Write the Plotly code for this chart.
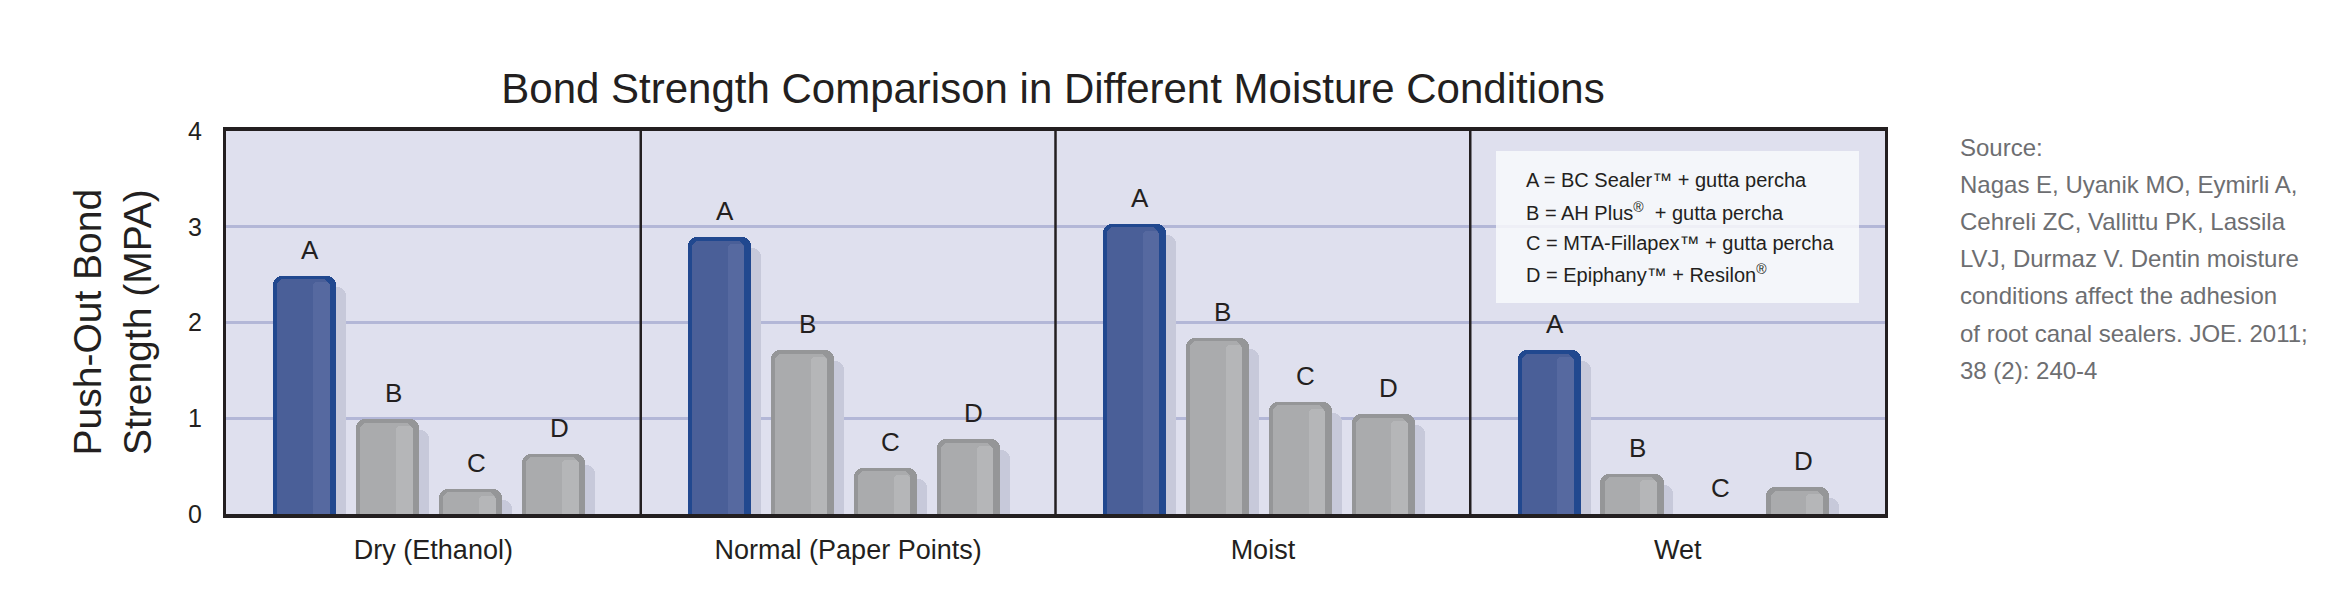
import plotly.graph_objects as go

# ---------------- data ----------------
CONDITIONS = ["Dry (Ethanol)", "Normal (Paper Points)", "Moist", "Wet"]
SEALERS = ["A", "B", "C", "D"]
A_VALUES = [2.49, 2.89, 3.03, 1.71]
B_VALUES = [0.99, 1.71, 1.84, 0.42]
C_VALUES = [0.26, 0.48, 1.17, 0.00]
D_VALUES = [0.63, 0.78, 1.04, 0.28]
Y_TICKS = [0, 1, 2, 3, 4]
LEGEND_LINES = [
    "A = BC Sealer™ + gutta percha",
    "B = AH Plus<sup>®</sup>  + gutta percha",
    "C = MTA-Fillapex™ + gutta percha",
    "D = Epiphany™ + Resilon<sup>®</sup>",
]
SOURCE_LINES = [
    "Source:",
    "Nagas E, Uyanik MO, Eymirli A,",
    "Cehreli ZC, Vallittu PK, Lassila",
    "LVJ, Durmaz V. Dentin moisture",
    "conditions affect the adhesion",
    "of root canal sealers. JOE. 2011;",
    "38 (2): 240-4",
]
TITLE = "Bond Strength Comparison in Different Moisture Conditions"
Y_TITLE = "Push-Out Bond<br>Strength (MPA)"

SERIES = [A_VALUES, B_VALUES, C_VALUES, D_VALUES]

# ---------------- layout geometry ----------------
W, H = 2345, 612
ML, MR, MT, MB = 218, 468, 123, 106
PW, PH = W - ML - MR, H - MT - MB
GROUP = 5.0          # x-units per condition panel
FIRST = 0.95         # offset of first bar in a panel
BAR_W = 0.76

REG = "Liberation Sans, Arial, sans-serif"
INK = "#231f20"


def px_x(px):
    return (px - ML) / PW


def px_y(py):
    return 1 - (py - MT) / PH


def positions(i):
    return [GROUP * p + FIRST + i for p in range(len(CONDITIONS))]


BLUE = dict(outer="#21488f", inner="#4a5f98", stripe="#5669a0")
GRAY = dict(outer="#959698", inner="#aaabad", stripe="#b5b6b8")

fig = go.Figure()

# shadows
for i, vals in enumerate(SERIES):
    xs = [x + 0.12 for x in positions(i)]
    fig.add_trace(go.Bar(x=xs, y=[max(v - 0.115, 0) for v in vals], width=BAR_W,
                         marker=dict(color="#c7c9da", cornerradius=9, line_width=0),
                         hoverinfo="skip", showlegend=False))
# outer bars
for i, vals in enumerate(SERIES):
    pal = BLUE if i == 0 else GRAY
    fig.add_trace(go.Bar(x=positions(i), y=vals, width=BAR_W, name=SEALERS[i],
                         marker=dict(color=pal["outer"], cornerradius=9, line_width=0),
                         showlegend=False))
# inner highlight
for i, vals in enumerate(SERIES):
    pal = BLUE if i == 0 else GRAY
    xs = [x - 0.02 for x in positions(i)]
    fig.add_trace(go.Bar(x=xs, y=[max(v - 0.035, 0) for v in vals], width=0.62,
                         marker=dict(color=pal["inner"], cornerradius=7, line_width=0),
                         hoverinfo="skip", showlegend=False))
# right stripe
for i, vals in enumerate(SERIES):
    pal = BLUE if i == 0 else GRAY
    xs = [x + 0.2 for x in positions(i)]
    fig.add_trace(go.Bar(x=xs, y=[max(v - 0.07, 0) for v in vals], width=0.2,
                         marker=dict(color=pal["stripe"], cornerradius=4, line_width=0),
                         hoverinfo="skip", showlegend=False))

# letters above bars
for i, vals in enumerate(SERIES):
    for x, v in zip(positions(i), vals):
        fig.add_annotation(x=x + 0.066, y=v, xref="x", yref="y", text=SEALERS[i],
                           showarrow=False, yanchor="bottom", yshift=9,
                           font=dict(family=REG, size=26, color=INK))

# panel dividers
for p in range(1, len(CONDITIONS)):
    fig.add_shape(type="line", x0=GROUP * p, x1=GROUP * p, y0=0, y1=1,
                  xref="x", yref="paper", line=dict(color=INK, width=2.5), layer="above")

# legend box
fig.add_shape(type="rect", xref="paper", yref="paper",
              x0=px_x(1488), x1=px_x(1851), y0=px_y(295), y1=px_y(143),
              fillcolor="rgba(248,249,252,0.85)", line_width=0, layer="above")
for k, line in enumerate(LEGEND_LINES):
    fig.add_annotation(xref="paper", yref="paper", x=px_x(1516), y=px_y(172 + 31.3 * k),
                       xanchor="left", yanchor="middle", showarrow=False, text=line,
                       font=dict(family=REG, size=20, color=INK))

# source text
for k, line in enumerate(SOURCE_LINES):
    fig.add_annotation(xref="paper", yref="paper", x=px_x(1950), y=px_y(139 + 37.2 * k),
                       xanchor="left", yanchor="middle", showarrow=False, text=line,
                       font=dict(family=REG, size=24, color="#6d6e71"))

# y-axis title
fig.add_annotation(xref="paper", yref="paper", x=px_x(104), y=0.5, textangle=-90,
                   xanchor="center", yanchor="middle", showarrow=False, text=Y_TITLE,
                   font=dict(family=REG, size=39, color=INK))

fig.update_layout(
    width=W, height=H,
    margin=dict(l=ML, r=MR, t=MT, b=MB),
    paper_bgcolor="white", plot_bgcolor="#dfe0ee",
    barmode="overlay", bargap=0,
    title=dict(text=TITLE, x=1045 / W, xanchor="center",
               y=1 - 80 / H, yanchor="middle", yref="container",
               font=dict(family=REG, size=42, color=INK)),
    xaxis=dict(range=[0, GROUP * len(CONDITIONS)],
               tickvals=[GROUP * p + GROUP / 2 for p in range(len(CONDITIONS))],
               ticktext=CONDITIONS, ticks="", showgrid=False, zeroline=False,
               showline=True, mirror=True, linecolor=INK, linewidth=3.5,
               ticklabelstandoff=9,
               tickfont=dict(family=REG, size=27, color=INK)),
    yaxis=dict(range=[0, 4], tickvals=Y_TICKS, ticks="", showgrid=True,
               gridcolor="#b3b7d7", gridwidth=3, zeroline=False,
               showline=True, mirror=True, linecolor=INK, linewidth=3,
               ticklabelstandoff=16,
               tickfont=dict(family=REG, size=25, color=INK)),
    showlegend=False,
)

fig.write_html("out.html")
